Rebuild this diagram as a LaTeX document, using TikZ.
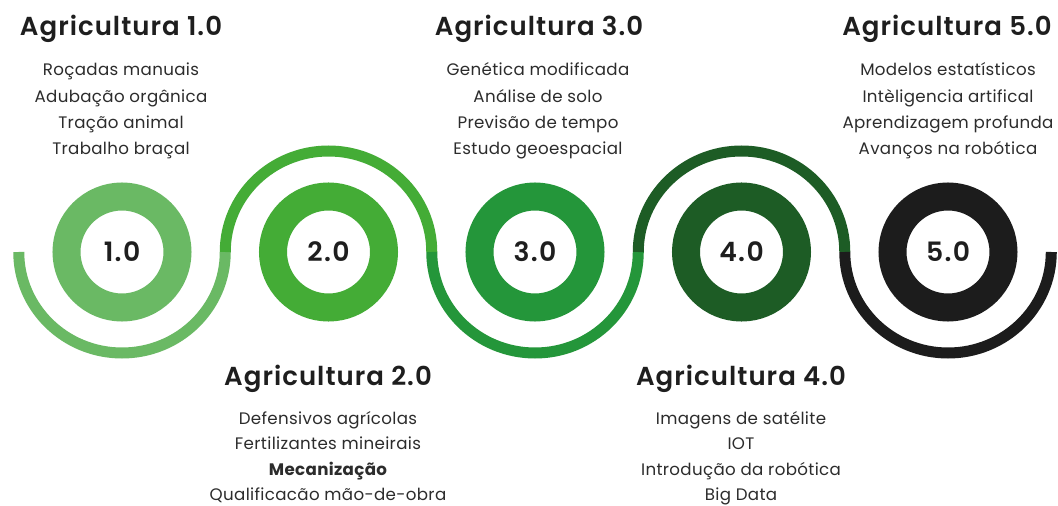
\documentclass[tikz,border=0pt]{standalone}
\usepackage{fontspec}
\setmainfont{Poppins}
\newfontfamily\ttlfont[LetterSpace=4, BoldFont={Poppins SemiBold}]{Poppins}
\newfontfamily\itmfont[LetterSpace=2]{Poppins}
\newfontfamily\numfont[LetterSpace=5, BoldFont={Poppins SemiBold}]{Poppins}
\definecolor{cA}{HTML}{6AB964}
\definecolor{cB}{HTML}{44AC36}
\definecolor{cC}{HTML}{24963A}
\definecolor{cD}{HTML}{1D5C25}
\definecolor{cE}{HTML}{1C1C1C}
\definecolor{tc}{HTML}{1E1E1E}
\definecolor{ic}{HTML}{2C2C2C}
\begin{document}
\begin{tikzpicture}[x=0.75pt,y=-0.75pt]
\tikzset{
  ring/.style={circle, draw=#1, line width=21pt, minimum size=83.25pt, inner sep=0pt,
    font=\numfont\bfseries\fontsize{20}{20}\selectfont, text=tc},
  wave/.style={draw=#1, line width=8.25pt, line cap=butt},
  ttl/.style={anchor=base, font=\ttlfont\bfseries\fontsize{19.5}{19.5}\selectfont, text=tc},
  itm/.style={anchor=base, font=\itmfont\fontsize{12.5}{12.5}\selectfont, text=ic},
  itmb/.style={itm, font=\itmfont\bfseries\fontsize{12.5}{12.5}\selectfont},
}
\useasboundingbox[fill=white] (0,0) rectangle (1058,506);

% rings
\node[ring=cA] (r1) at (122,252) {1.0};
\node[ring=cB] (r2) at (328.5,252) {2.0};
\node[ring=cC] (r3) at (535,252) {3.0};
\node[ring=cD] (r4) at (741.5,252) {4.0};
\node[ring=cE] (r5) at (948,252) {5.0};

% wave
\coordinate (w0) at (18.75,252);
\draw[wave=cA] (w0) arc[start angle=180, end angle=360, x radius=77.44pt, y radius=75.75pt] coordinate (w1);
\draw[wave=cB] (w1) arc[start angle=180, end angle=0, x radius=77.44pt, y radius=75.75pt] coordinate (w2);
\draw[wave=cC] (w2) arc[start angle=180, end angle=360, x radius=77.44pt, y radius=75.75pt] coordinate (w3);
\draw[wave=cD] (w3) arc[start angle=180, end angle=0, x radius=77.44pt, y radius=75.75pt] coordinate (w4);
\draw[wave=cE] (w4) arc[start angle=180, end angle=360, x radius=77.44pt, y radius=75.75pt] coordinate (w5);

% Agricultura 1.0
\node[ttl] (t1) at (121,36) {Agricultura 1.0};
\node[itm] (a1) at (121,76) {Roçadas manuais};
\node[itm] (a2) at (121,102.3) {Adubação orgânica};
\node[itm] (a3) at (121,128.6) {Tração animal};
\node[itm] (a4) at (121,155) {Trabalho braçal};

% Agricultura 3.0
\node[ttl] (t3) at (539,36) {Agricultura 3.0};
\node[itm] (c1) at (538,76) {Genética modificada};
\node[itm] (c2) at (538,102.3) {Análise de solo};
\node[itm] (c3) at (538,128.6) {Previsão de tempo};
\node[itm] (c4) at (538,155) {Estudo geoespacial};

% Agricultura 5.0
\node[ttl] (t5) at (947,36) {Agricultura 5.0};
\node[itm] (e1) at (948,76) {Modelos estatísticos};
\node[itm] (e2) at (948,102.3) {Intèligencia artifical};
\node[itm] (e3) at (948,128.6) {Aprendizagem profunda};
\node[itm] (e4) at (948,155) {Avanços na robótica};

% Agricultura 2.0
\node[ttl] (t2) at (328,386) {Agricultura 2.0};
\node[itm] (b1) at (328,424) {Defensivos agrícolas};
\node[itm] (b2) at (328,449.5) {Fertilizantes mineirais};
\node[itmb] (b3) at (328,475) {Mecanização};
\node[itm] (b4) at (328,500.5) {Qualificacão mão-de-obra};

% Agricultura 4.0
\node[ttl] (t4) at (741,386) {Agricultura 4.0};
\node[itm] (d1) at (741,424) {Imagens de satélite};
\node[itm] (d2) at (741,449.5) {IOT};
\node[itm] (d3) at (741,475) {Introdução da robótica};
\node[itm] (d4) at (741,500.5) {Big Data};
\end{tikzpicture}
\end{document}
